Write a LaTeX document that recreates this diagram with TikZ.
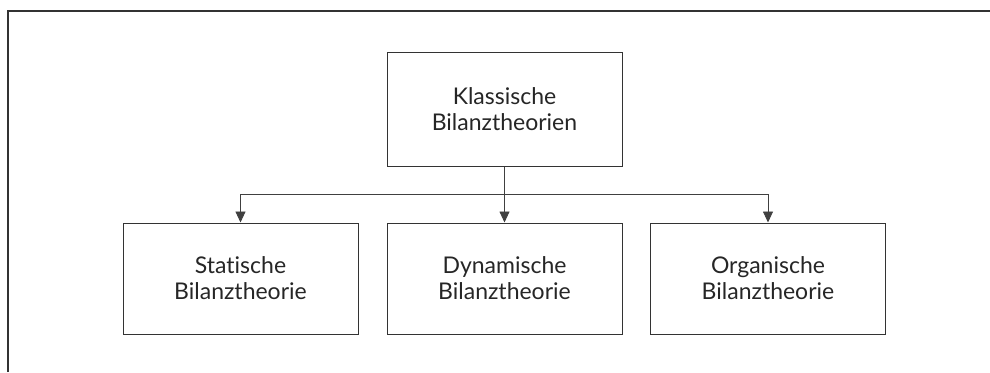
\documentclass[tikz,border=0pt]{standalone}
\usepackage{fontspec}
\setmainfont[Ligatures={NoCommon,NoRare,NoContextual}]{Lato}
\usetikzlibrary{arrows.meta}
\begin{document}
\begin{tikzpicture}[x=1pt,y=-1pt,
  box/.style={draw=black!80, line width=1pt, minimum width=235pt, align=center, font=\fontsize{23}{26}\selectfont, text=black!85, inner sep=0pt},
  conn/.style={draw=black!75, line width=0.9pt},
  arr/.style={conn, -{Triangle[length=11pt,width=10pt]}}]
\useasboundingbox (0,0) rectangle (990,372);
\draw[black!80, line width=1.5pt] (8,372) -- (8,11) -- (990,11);
\node[box, minimum height=114pt] (top) at (504.5,109) {Klassische\\Bilanztheorien};
\node[box, minimum height=111pt] (s) at (240.5,278.5) {Stat\kern0pt ische\\Bilanztheorie};
\node[box, minimum height=111pt] (d) at (504.5,278.5) {Dynamische\\Bilanztheorie};
\node[box, minimum height=111pt] (o) at (768,278.5) {Organische\\Bilanztheorie};
\coordinate (j) at (504.5,194);
\draw[conn] (top.south) -- (j);
\draw[arr] (j) -| (s.north);
\draw[arr] (j) -| (o.north);
\draw[arr] (j) -- (d.north);
\end{tikzpicture}
\end{document}
